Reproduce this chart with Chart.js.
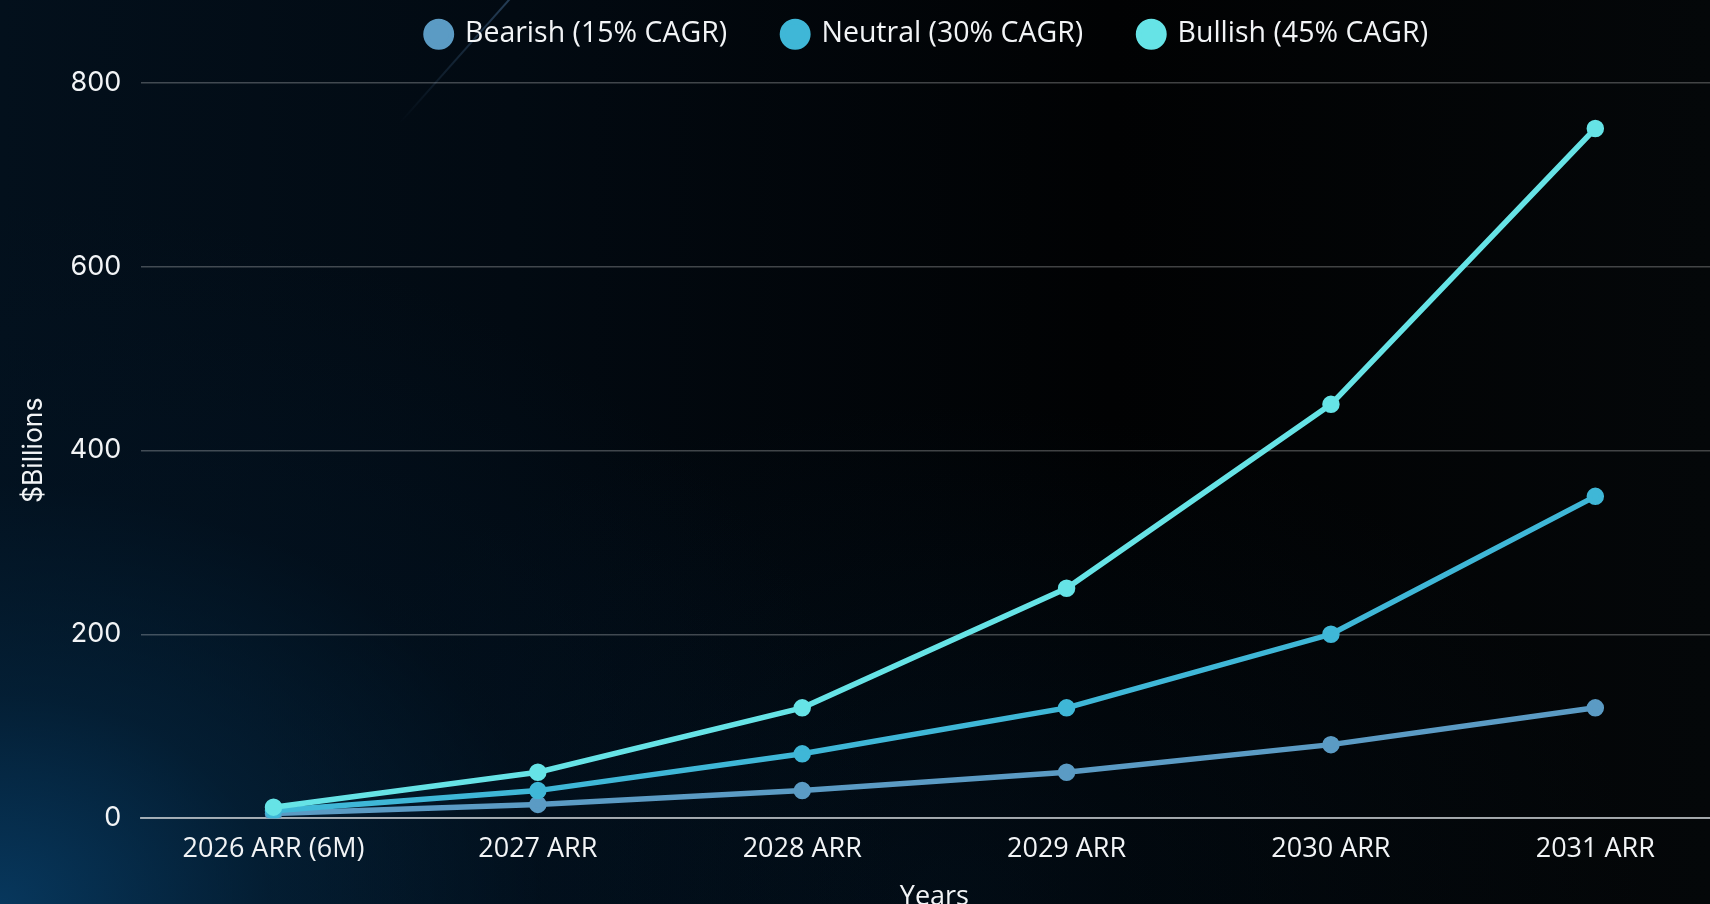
<!DOCTYPE html>
<html>
<head>
<meta charset="utf-8">
<script src="https://cdn.jsdelivr.net/npm/chart.js@4.4.1/dist/chart.umd.min.js"></script>
<style>
  html, body { margin: 0; padding: 0; overflow: hidden; width: 1710px; height: 904px; }
  body {
    background:
      radial-gradient(ellipse 900px 700px at 0% 100%, rgba(8,62,104,0.85) 0%, rgba(4,40,68,0.6) 30%, rgba(2,22,40,0.35) 60%, rgba(0,0,0,0) 100%),
      radial-gradient(ellipse 700px 500px at 55% 100%, rgba(3,28,50,0.35) 0%, rgba(0,0,0,0) 100%),
      linear-gradient(to right, #03101c 0%, #020a12 30%, #010203 65%, #040709 100%);
    position: relative;
  }
  .streak {
    position: absolute; left: 512px; top: -5px; width: 2px; height: 170px;
    background: linear-gradient(to bottom, rgba(90,140,190,0.4), rgba(60,110,160,0.0));
    transform: rotate(41.6deg); transform-origin: top left;
  }
  #wrap { position: absolute; left: 0; top: 0; width: 1740px; height: 914px; }
</style>
</head>
<body>
<div class="streak"></div>
<div id="wrap"><canvas id="c"></canvas></div>
<script>
const categories = ["2026 ARR (6M)", "2027 ARR", "2028 ARR", "2029 ARR", "2030 ARR", "2031 ARR"];
const bearish = [5, 15, 30, 50, 80, 120];
const neutral = [8, 30, 70, 120, 200, 350];
const bullish = [12, 50, 120, 250, 450, 750];
const seriesNames = ["Bearish (15% CAGR)", "Neutral (30% CAGR)", "Bullish (45% CAGR)"];
const seriesColors = ["#5b9bc4", "#3fb7d7", "#66e3e6"];
const yTicks = [0, 200, 400, 600, 800];

const legendSpacer = {
  id: 'legendSpacer',
  beforeInit(chart) {
    const origFit = chart.legend.fit;
    chart.legend.fit = function () {
      origFit.call(this);
      this.height += 24;
    };
  },
  afterLayout(chart) {
    const lg = chart.legend;
    lg.left -= 7;
    lg.right -= 7;
  }
};

const mk = (i, data, order) => ({
  label: seriesNames[i],
  data,
  order,
  borderColor: seriesColors[i],
  backgroundColor: seriesColors[i],
  pointBackgroundColor: seriesColors[i],
  pointBorderColor: seriesColors[i],
  borderWidth: 5.5,
  pointRadius: 6,
  pointHoverRadius: 7,
  tension: 0,
  fill: false
});

new Chart(document.getElementById('c'), {
  type: 'line',
  data: {
    labels: categories,
    datasets: [mk(0, bearish, 3), mk(1, neutral, 2), mk(2, bullish, 1)]
  },
  options: {
    responsive: true,
    maintainAspectRatio: false,
    animation: false,
    devicePixelRatio: 1,
    layout: { padding: { top: -36, left: 17, right: 0, bottom: 0 } },
    plugins: {
      legend: {
        position: 'top',
        fullSize: false,
        labels: {
          color: '#f2f4f6',
          font: { family: "'Open Sans', sans-serif", size: 28.5 },
          usePointStyle: true,
          pointStyle: 'circle',
          boxWidth: 24,
          boxHeight: 18,
          padding: 56,
          sort: (a, b) => a.datasetIndex - b.datasetIndex
        }
      },
      tooltip: { enabled: false }
    },
    scales: {
      x: {
        offset: true,
        grid: { display: false, drawTicks: false },
        border: { display: true, color: 'rgba(200,205,210,0.75)', width: 2 },
        ticks: {
          color: '#f2f4f6',
          font: { family: "'Open Sans', sans-serif", size: 27 },
          padding: 15,
          maxRotation: 0
        },
        title: {
          display: true,
          text: 'Years',
          color: '#f2f4f6',
          font: { family: "'Open Sans', sans-serif", size: 27 },
          padding: { top: 1, bottom: 0 }
        }
      },
      y: {
        min: 0,
        max: 800,
        afterBuildTicks(scale) { scale.ticks = yTicks.map(v => ({ value: v })); },
        grid: { color: 'rgba(255,255,255,0.25)', lineWidth: 1.5, drawTicks: false },
        border: { display: false },
        ticks: {
          color: '#f2f4f6',
          font: { family: "'Inter', sans-serif", size: 27 },
          padding: 20
        },
        title: {
          display: true,
          text: '$Billions',
          color: '#f2f4f6',
          font: { family: "'Inter', sans-serif", size: 26.5 },
          padding: { top: 1, bottom: 0 }
        }
      }
    }
  },
  plugins: [legendSpacer]
});
</script>
</body>
</html>
